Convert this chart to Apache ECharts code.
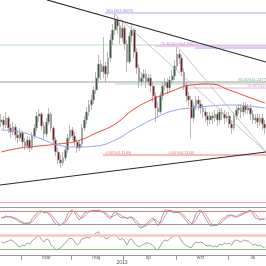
<!DOCTYPE html>
<html><head><meta charset="utf-8">
<script src="https://cdn.jsdelivr.net/npm/echarts@6/dist/echarts.min.js"></script>
<style>html,body{margin:0;padding:0;background:#fff}#c{width:266px;height:266px}</style>
</head><body><div id="c"></div>
<script>
// ---- price bars (EUR/PLN style, 2013) ----
const opens = [4.146,4.150,4.140,4.154,4.134,4.126,4.136,4.120,4.114,4.124,4.106,
 4.098,4.110,4.094,4.118,4.134,4.158,4.162,4.138,4.122,4.146,
 4.162,4.134,4.110,4.086,4.070,4.064,4.074,4.090,4.114,4.130,
 4.118,4.106,4.094,4.102,4.134,4.150,4.166,4.180,4.190,4.210,
 4.234,4.262,4.246,4.258,4.242,4.274,4.310,4.330,4.350,4.338,
 4.314,4.334,4.302,4.266,4.318,4.330,4.286,4.254,4.226,4.234,
 4.242,4.226,4.234,4.218,4.198,4.174,4.166,4.198,4.218,4.226,
 4.214,4.230,4.238,4.258,4.282,4.274,4.246,4.218,4.198,4.190,
 4.154,4.178,4.190,4.182,4.174,4.166,4.158,4.150,4.158,4.154,
 4.162,4.150,4.166,4.162,4.154,4.158,4.142,4.134,4.158,4.170,
 4.174,4.166,4.178,4.170,4.174,4.162,4.150,4.154,4.146,4.154,
 4.142];
const closes = [4.150,4.140,4.154,4.134,4.126,4.136,4.120,4.114,4.124,4.106,
 4.098,4.110,4.094,4.118,4.134,4.158,4.162,4.138,4.122,4.146,
 4.162,4.134,4.110,4.086,4.070,4.064,4.074,4.090,4.114,4.130,
 4.118,4.106,4.094,4.102,4.134,4.150,4.166,4.180,4.190,4.210,
 4.234,4.262,4.246,4.258,4.242,4.274,4.310,4.330,4.350,4.338,
 4.314,4.334,4.302,4.266,4.318,4.330,4.286,4.254,4.226,4.234,
 4.242,4.226,4.234,4.218,4.198,4.174,4.166,4.198,4.218,4.226,
 4.214,4.230,4.238,4.258,4.282,4.274,4.246,4.218,4.198,4.190,
 4.154,4.178,4.190,4.182,4.174,4.166,4.158,4.150,4.158,4.154,
 4.162,4.150,4.166,4.162,4.154,4.158,4.142,4.134,4.158,4.170,
 4.174,4.166,4.178,4.170,4.174,4.162,4.150,4.154,4.146,4.154,
 4.142,4.134];
const highs = [4.162,4.158,4.166,4.158,4.142,4.146,4.142,4.130,4.134,4.130,
 4.114,4.118,4.116,4.126,4.142,4.166,4.172,4.166,4.146,4.154,
 4.174,4.166,4.138,4.116,4.094,4.080,4.086,4.098,4.122,4.140,
 4.136,4.126,4.112,4.110,4.142,4.158,4.176,4.190,4.200,4.218,
 4.246,4.280,4.270,4.316,4.266,4.286,4.322,4.342,4.362,4.356,
 4.346,4.346,4.340,4.310,4.326,4.342,4.334,4.294,4.262,4.246,
 4.252,4.250,4.242,4.242,4.226,4.206,4.186,4.206,4.226,4.234,
 4.234,4.238,4.250,4.270,4.296,4.290,4.280,4.254,4.226,4.206,
 4.198,4.186,4.198,4.198,4.190,4.182,4.174,4.166,4.166,4.166,
 4.170,4.170,4.174,4.174,4.170,4.166,4.166,4.150,4.166,4.178,
 4.182,4.182,4.186,4.186,4.182,4.182,4.170,4.162,4.162,4.162,
 4.162,4.150];
const lows = [4.136,4.130,4.134,4.124,4.114,4.120,4.110,4.104,4.108,4.096,
 4.090,4.092,4.086,4.090,4.112,4.128,4.146,4.130,4.110,4.116,
 4.140,4.126,4.100,4.078,4.062,4.054,4.058,4.068,4.084,4.108,
 4.110,4.098,4.084,4.088,4.096,4.128,4.142,4.158,4.170,4.182,
 4.202,4.226,4.230,4.234,4.226,4.234,4.266,4.300,4.320,4.322,
 4.302,4.306,4.290,4.246,4.262,4.306,4.274,4.242,4.214,4.218,
 4.226,4.214,4.220,4.206,4.186,4.146,4.154,4.162,4.190,4.210,
 4.202,4.206,4.222,4.230,4.250,4.262,4.238,4.210,4.186,4.178,
 4.114,4.146,4.170,4.170,4.162,4.154,4.146,4.138,4.142,4.142,
 4.146,4.138,4.142,4.150,4.142,4.146,4.134,4.122,4.130,4.150,
 4.162,4.154,4.158,4.162,4.162,4.150,4.142,4.142,4.134,4.138,
 4.130,4.122];

// ---- moving averages (bar index, value) ----
const maBars = [0,8,16,24,32,40,48,56,64,72,80,88,96,104,111];
const maRed  = [4.086,4.094,4.098,4.102,4.108,4.124,4.142,4.172,4.192,4.208,4.220,4.222,4.210,4.196,4.184];
const maBlue = [4.130,4.126,4.114,4.100,4.096,4.098,4.110,4.132,4.152,4.168,4.174,4.178,4.180,4.178,4.174];

// ---- drawn lines (bar index, price) ----
const trendUpper = [[19.3, 4.390], [111.5, 4.266]];
const trendLower = [[-0.5, 4.020], [111.5, 4.086]];
const fanA = [[47.9, 4.362], [111.5, 4.086]];
const fanB = [[74.4, 4.296], [111.5, 4.086]];

// ---- horizontal levels ----
const levelValues    = [4.364, 4.300, 4.298, 4.294, 4.226, 4.222, 4.214, 4.080];
const levelStartBars = [43.7, -0.5, 64.8, 81.6, -0.5, 47.9, 75.3, 42.9];
const levelEndBars   = [111.5, 111.5, 111.5, 111.5, 111.5, 111.5, 111.5, 111.5];
const labelTexts  = ['100.00(4.3609)', '76.4(100.00(4.3062))', '80.00%(4.2477)', '61.80%(4.2143)', '0.00%(4.1140)', '0.00%(4.1140)'];
const labelBars   = [43.9, 66.9, 99.7, 103.5, 43.7, 70.2];
const labelValues = [4.364, 4.298, 4.226, 4.214, 4.080, 4.080];

// ---- indicators ----
const stochK = [48,53,58,53,53,48,44,35,30,25,
 21,25,25,44,58,72,81,81,72,76,
 67,53,35,21,16,16,25,39,67,81,
 85,72,53,39,53,72,76,81,81,85,
 81,85,76,76,62,53,44,67,76,67,
 53,48,53,44,53,53,35,21,7,2,
 12,21,30,44,48,30,12,30,62,85,
 85,81,76,72,76,72,62,48,35,21,
 16,39,67,81,85,67,48,30,12,12,
 16,16,30,44,48,58,62,62,53,53,
 62,67,72,76,81,85,67,48,44,39,
 44,44];
const stochD = [50,50,53,55,55,51,48,42,36,30,
 25,24,24,31,42,58,70,78,78,76,
 72,65,52,36,24,18,19,27,44,62,
 78,79,70,55,48,55,67,76,79,82,
 82,84,81,79,71,64,53,55,62,70,
 65,56,51,48,50,50,47,36,21,10,
 7,12,21,32,41,41,30,24,35,59,
 77,84,81,76,75,73,70,61,48,35,
 24,25,41,62,78,78,67,48,30,18,
 13,15,21,30,41,50,56,61,59,56,
 56,61,67,72,76,81,78,67,53,44,
 42,42];
const rsi = [50,47,50,53,56,53,47,39,36,41,
 39,47,44,53,59,64,67,56,50,59,
 56,41,36,27,30,33,41,47,56,61,
 59,50,41,47,59,61,64,61,67,70,
 76,79,64,67,59,61,67,70,70,64,
 56,61,53,41,56,59,47,41,36,39,
 44,47,47,44,39,30,27,39,50,56,
 53,59,64,67,70,64,53,44,39,36,
 33,44,50,47,50,47,41,39,41,36,
 39,36,44,41,47,44,47,41,53,56,
 53,50,56,53,53,47,41,44,39,41,
 36,33];
const stochLevels = [120, 100, 80, 20];
const rsiLevels = [70, 30];

// ---- axis labels ----
const monthNames = ['mar', 'maj', 'lip', 'wrz', 'lis'];
const monthLabelBars = [19, 40, 62, 84, 106];
const monthTickBars = [9, 30, 52, 74, 96];
const yearLabel = '2013';

// ---- styles ----
const levelColors = ['#a9a9f6', '#bcdcbc', '#ee9aee', '#a0a0f4', '#9c9c9c', '#b4d8b4', '#eab0e4', '#f27a7a'];
const labelColors = ['#6f6fe8', '#d456d4', '#5f9f5f', '#d77cc8', '#e65050', '#e65050'];
const stochLevelColors = ['#f4a4a4', '#9a9a9a', '#f07a7a', '#9a9a9a'];
const rsiLevelColors = ['#f8c4c4', '#80c880'];
const rsiLevelWidths = [2.5, 1];

const bars = closes.map((_, i) => String(i));
const candleData = opens.map((o, i) => [o, closes[i], lows[i], highs[i]]);

function seg(data, color, width, z, smooth) {
  return {type: 'line', xAxisIndex: 1, yAxisIndex: 0, data: data, symbol: 'none', silent: true,
    smooth: smooth || false, lineStyle: {color: color, width: width}, z: z};
}

const series = [];
levelValues.forEach((v, k) => {
  series.push(seg([[levelStartBars[k], v], [levelEndBars[k], v]], levelColors[k], 1, 1));
});
series.push({
  type: 'candlestick', xAxisIndex: 0, yAxisIndex: 0, data: candleData, barWidth: 2.2, z: 2,
  itemStyle: {color: '#35603a', color0: '#7e1818', borderColor: '#a8a8a8', borderColor0: '#a8a8a8', borderWidth: 0.8}
});
series.push(seg(maBars.map((b, i) => [b, maRed[i]]), '#e8463c', 1, 3, 0.5));
series.push(seg(maBars.map((b, i) => [b, maBlue[i]]), '#95a2f2', 1, 3, 0.5));
series.push(seg(fanA, '#b8b8b8', 0.8, 4));
series.push(seg(fanB, '#b8b8b8', 0.8, 4));
series.push(seg(trendUpper, '#2a2a2a', 1.2, 5));
series.push(seg(trendLower, '#2a2a2a', 1.2, 5));
series.push({
  type: 'scatter', xAxisIndex: 1, yAxisIndex: 0, symbolSize: 1, silent: true, z: 6,
  itemStyle: {color: 'rgba(0,0,0,0)'},
  data: labelTexts.map((t, k) => ({
    value: [labelBars[k], labelValues[k]], name: t,
    label: {show: true, position: 'right', distance: 0, offset: [0, -2.6], formatter: t,
      color: labelColors[k], fontSize: 4, fontFamily: 'Liberation Sans'}
  }))
});
series.push({
  type: 'line', xAxisIndex: 2, yAxisIndex: 1, data: stochK, symbol: 'none', silent: true,
  lineStyle: {color: '#8a8a8a', width: 0.8}, z: 3,
  markLine: {silent: true, symbol: 'none', label: {show: false}, animation: false,
    data: stochLevels.map((v, k) => ({yAxis: v, lineStyle: {color: stochLevelColors[k], width: 1, type: 'solid'}}))}
});
series.push({
  type: 'line', xAxisIndex: 2, yAxisIndex: 1, data: stochD, symbol: 'none', silent: true,
  lineStyle: {color: '#f07070', width: 0.8}, z: 2
});
series.push({
  type: 'line', xAxisIndex: 3, yAxisIndex: 2, data: rsi, symbol: 'none', silent: true,
  lineStyle: {color: '#8a8a8a', width: 0.8}, z: 3,
  markLine: {silent: true, symbol: 'none', label: {show: false}, animation: false,
    data: rsiLevels.map((v, k) => ({yAxis: v, lineStyle: {color: rsiLevelColors[k], width: rsiLevelWidths[k], type: 'solid'}}))}
});

const chart = echarts.init(document.getElementById('c'), null, {renderer: 'canvas'});
chart.setOption({
  animation: false,
  backgroundColor: '#ffffff',
  grid: [
    {left: 0, right: 0, top: 0, height: 200},
    {left: 0, right: 0, top: 202.5, height: 26},
    {left: 0, right: 0, top: 224.5, height: 35}
  ],
  xAxis: [
    {type: 'category', gridIndex: 0, data: bars, show: false},
    {type: 'value', gridIndex: 0, min: -0.5, max: 111.5, show: false},
    {type: 'category', gridIndex: 1, data: bars, show: false},
    {type: 'category', gridIndex: 2, data: bars, position: 'bottom', offset: -4.5,
      axisLine: {show: true, lineStyle: {color: '#9a9a9a', width: 1}},
      axisTick: {show: true, interval: (i) => monthTickBars.includes(i), length: 5, lineStyle: {color: '#9a9a9a'}},
      axisLabel: {interval: (i) => monthLabelBars.includes(i), margin: 0.5, fontSize: 5, color: '#666',
        fontFamily: 'Liberation Sans',
        formatter: (v) => { const k = monthLabelBars.indexOf(Number(v)); return k < 0 ? '' : monthNames[k]; }},
      splitLine: {show: false}}
  ],
  yAxis: [
    {type: 'value', gridIndex: 0, min: 3.99, max: 4.39, show: false},
    {type: 'value', gridIndex: 1, min: 0, max: 120, show: false},
    {type: 'value', gridIndex: 2, min: 0, max: 100, show: false}
  ],
  graphic: [{type: 'text', x: 122, y: 263, silent: true,
    style: {text: yearLabel, align: 'center', verticalAlign: 'middle', fontSize: 5, fill: '#555', fontFamily: 'Liberation Sans'}}],
  series: series
});
</script>
</body></html>
